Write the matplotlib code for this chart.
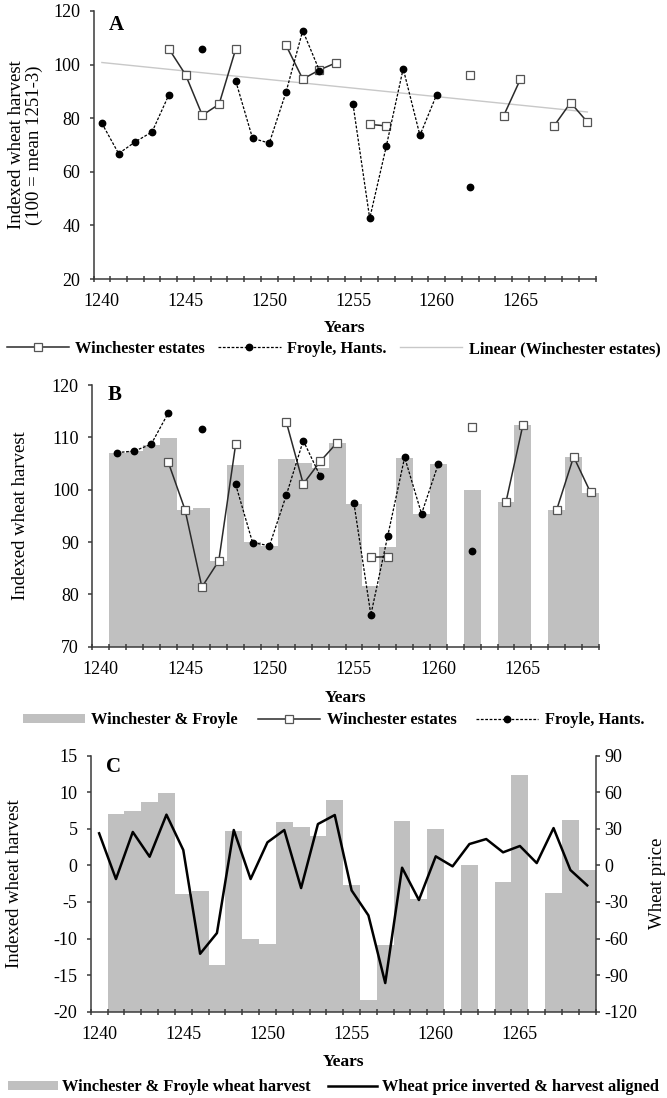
import numpy as np
import matplotlib
matplotlib.use('Agg')
import matplotlib.pyplot as plt
from matplotlib.ticker import FixedLocator

plt.rcParams['font.family'] = ['Liberation Serif', 'DejaVu Serif']
plt.rcParams['axes.unicode_minus'] = False

nan = np.nan
years = np.arange(1240, 1270)
year_ticks = [1240, 1245, 1250, 1255, 1260, 1265]

# Panel A - indexed harvest (100 = mean 1251-3)
win_a = np.array([nan, nan, nan, nan, 105.9, 96.2, 81.1, 85.2, 105.9, nan,
                  nan, 107.2, 94.6, 98.0, 100.7, nan, 77.7, 77.1, nan, nan,
                  nan, nan, 96.2, nan, 80.9, 94.5, nan, 77.0, 85.8, 78.6])
froyle_a = np.array([78.1, 66.8, 71.2, 74.9, 88.7, nan, 105.8, nan, 93.8, 72.5,
                     70.7, 89.7, 112.7, 97.7, nan, 85.3, 42.6, 69.8, 98.5, 73.6,
                     88.8, nan, 54.5, nan, nan, nan, nan, nan, nan, nan])

# Panel B - detrended indices
combined_b = np.array([nan, 107.06, 107.38, 108.61, 109.84, 96.13, 96.54, 86.4, 104.74, 90.0,
                       89.24, 105.93, 105.2, 104.06, 108.93, 97.36, 81.6, 89.1, 106.1, 95.4,
                       104.97, nan, 100.0, nan, 97.7, 112.4, nan, 96.17, 106.2, 99.4])
win_b = np.array([nan, nan, nan, nan, 105.35, 96.2, 81.4, 86.4, 108.7, nan,
                  nan, 112.9, 101.1, 105.4, 109.0, nan, 87.1, 87.2, nan, nan,
                  nan, nan, 112.0, nan, 97.7, 112.4, nan, 96.2, 106.3, 99.5])
froyle_b = np.array([nan, 107.1, 107.4, 108.7, 114.6, nan, 111.7, nan, 101.0, 89.9,
                     89.3, 99.0, 109.4, 102.6, nan, 97.4, 76.1, 91.2, 106.2, 95.4,
                     105.0, nan, 88.3, nan, nan, nan, nan, nan, nan, nan])

# Panel C - harvest deviation and inverted wheat price
harvest_c = np.array([nan, 7.06, 7.38, 8.61, 9.84, -3.87, -3.46, -13.6, 4.74, -10.0,
                      -10.76, 5.93, 5.2, 4.06, 8.93, -2.64, -18.4, -10.9, 6.1, -4.6,
                      4.97, nan, 0.0, nan, -2.3, 12.4, nan, -3.83, 6.2, -0.6])
price_c = np.array([26.3, -11.2, 27.4, 7.1, 41.6, 12.6, -72.5, -55.5, 29.0, -11.2,
                    18.9, 29.0, -18.6, 33.9, 41.3, -20.5, -41.0, -96.5, -1.9, -28.4,
                    7.4, -0.8, 17.5, 21.6, 10.7, 15.9, 1.9, 30.6, -3.8, -16.4])

bar_gray = '#c0c0c0'
axis_col = '#3a3a3a'
tick_fs = 13
lab_fs = 13.5
leg_fs = 11.8


def style(ax):
    ax.spines['top'].set_visible(False)
    ax.spines['right'].set_visible(False)
    for s in ['left', 'bottom', 'right']:
        ax.spines[s].set_color(axis_col)
        ax.spines[s].set_linewidth(1.1)
    ax.set_xlim(1239.5, 1269.5)
    ax.xaxis.set_major_locator(FixedLocator(year_ticks))
    ax.xaxis.set_minor_locator(FixedLocator(np.arange(1239.5, 1270, 1.0)))
    ax.tick_params(axis='x', which='major', length=0, pad=10, labelsize=tick_fs)
    ax.tick_params(axis='x', which='minor', direction='inout', length=5,
                   color=axis_col, width=1.1)
    ax.tick_params(axis='y', direction='out', length=3, pad=6.5, labelsize=tick_fs,
                   color=axis_col, width=1.1)
    ax.set_xlabel('Years', fontsize=12.5, fontweight='bold', va='center')


fig = plt.figure(figsize=(6.67, 10.98), dpi=100)

# ---------------- A ----------------
axA = fig.add_axes([0.1402, 0.7459, 0.7529, 0.2441])
mask = ~np.isnan(win_a)
coef = np.polyfit(years[mask], win_a[mask], 1)
lw_, = axA.plot(years, win_a, color='#2a2a2a', lw=1.1, marker='s', ms=5.2,
                mfc='white', mec='#555555', mew=0.9, zorder=3, label='Winchester estates')
lf_, = axA.plot(years, froyle_a, color='black', lw=0.9, ls=(0, (2.2, 1.3)), marker='o',
                ms=4.6, mfc='black', mec='black', zorder=4, label='Froyle, Hants.')
lt_, = axA.plot(years, np.polyval(coef, years), color='#c8c8c8', lw=1.0, zorder=2,
                label='Linear (Winchester estates)')
style(axA)
axA.set_ylim(20, 120)
axA.set_yticks([20, 40, 60, 80, 100, 120])
axA.set_ylabel('Indexed wheat harvest\n(100 = mean 1251-3)', fontsize=lab_fs, va='center',
               linespacing=1.05)
axA.yaxis.set_label_coords(-0.136, 0.5)
axA.xaxis.set_label_coords(0.5, -0.183)
axA.text(0.03, 0.948, 'A', transform=axA.transAxes, fontsize=15, fontweight='bold',
         ha='left', va='center')
fig.legend(handles=[lw_, lf_, lt_], loc='center', bbox_to_anchor=(0.5, 1 - 349 / 1098),
           ncol=3, frameon=False, prop={'size': leg_fs, 'weight': 'bold'},
           handlelength=3.8, handletextpad=0.4, columnspacing=0.8, borderpad=0)

# ---------------- B ----------------
axB = fig.add_axes([0.138, 0.411, 0.760, 0.2383])
ok = ~np.isnan(combined_b)
bars_b = axB.bar(years[ok], combined_b[ok] - 70, bottom=70, width=1.0, color=bar_gray,
                 lw=0, zorder=1, label='Winchester & Froyle')
lwb, = axB.plot(years, win_b, color='#2a2a2a', lw=1.1, marker='s', ms=5.2,
                mfc='white', mec='#555555', mew=0.9, zorder=3, label='Winchester estates')
lfb, = axB.plot(years, froyle_b, color='black', lw=0.9, ls=(0, (2.2, 1.3)), marker='o',
                ms=4.6, mfc='black', mec='black', zorder=4, label='Froyle, Hants.')
style(axB)
axB.set_ylim(70, 120)
axB.set_yticks([70, 80, 90, 100, 110, 120])
axB.set_ylabel('Indexed wheat harvest', fontsize=lab_fs, va='center')
axB.yaxis.set_label_coords(-0.142, 0.5)
axB.xaxis.set_label_coords(0.5, -0.196)
axB.text(0.03, 0.962, 'B', transform=axB.transAxes, fontsize=15, fontweight='bold',
         ha='left', va='center')
fig.legend(handles=[bars_b, lwb, lfb], loc='center', bbox_to_anchor=(0.5, 1 - 720 / 1098),
           ncol=3, frameon=False, prop={'size': leg_fs, 'weight': 'bold'},
           handlelength=3.8, handleheight=0.5, handletextpad=0.4, columnspacing=1.2,
           borderpad=0)

# ---------------- C ----------------
axC = fig.add_axes([0.136, 0.0786, 0.757, 0.2332])
okc = ~np.isnan(harvest_c)
bars_c = axC.bar(years[okc], harvest_c[okc] + 20, bottom=-20, width=1.0, color=bar_gray,
                 lw=0, zorder=1, label='Winchester & Froyle wheat harvest')
style(axC)
axC.set_ylim(-20, 15)
axC.set_yticks(np.arange(-20, 16, 5))
axC.set_ylabel('Indexed wheat harvest', fontsize=lab_fs, va='center')
axC.yaxis.set_label_coords(-0.15, 0.5)
axC.xaxis.set_label_coords(0.5, -0.196)
axC.text(0.03, 0.956, 'C', transform=axC.transAxes, fontsize=15, fontweight='bold',
         ha='left', va='center')

axC2 = axC.twinx()
lp, = axC2.plot(years, price_c, color='black', lw=1.8, zorder=3,
                label='Wheat price inverted & harvest aligned')
axC2.set_ylim(-120, 90)
axC2.set_yticks(np.arange(-120, 91, 30))
axC2.spines['top'].set_visible(False)
axC2.spines['left'].set_visible(False)
axC2.spines['bottom'].set_visible(False)
axC2.spines['right'].set_color(axis_col)
axC2.spines['right'].set_linewidth(1.1)
axC2.tick_params(axis='y', direction='out', length=3, pad=3, labelsize=tick_fs,
                 color=axis_col, width=1.1)
axC2.set_ylabel('Wheat price', fontsize=lab_fs, va='center', rotation=90)
axC2.yaxis.set_label_coords(1.123, 0.5)
fig.legend(handles=[bars_c, lp], loc='center', bbox_to_anchor=(0.5, 1 - 1087 / 1098),
           ncol=2, frameon=False, prop={'size': leg_fs, 'weight': 'bold'},
           handlelength=3.0, handleheight=0.5, handletextpad=0.3, columnspacing=1.0,
           borderpad=0)

fig.savefig('out.png', dpi=100)
